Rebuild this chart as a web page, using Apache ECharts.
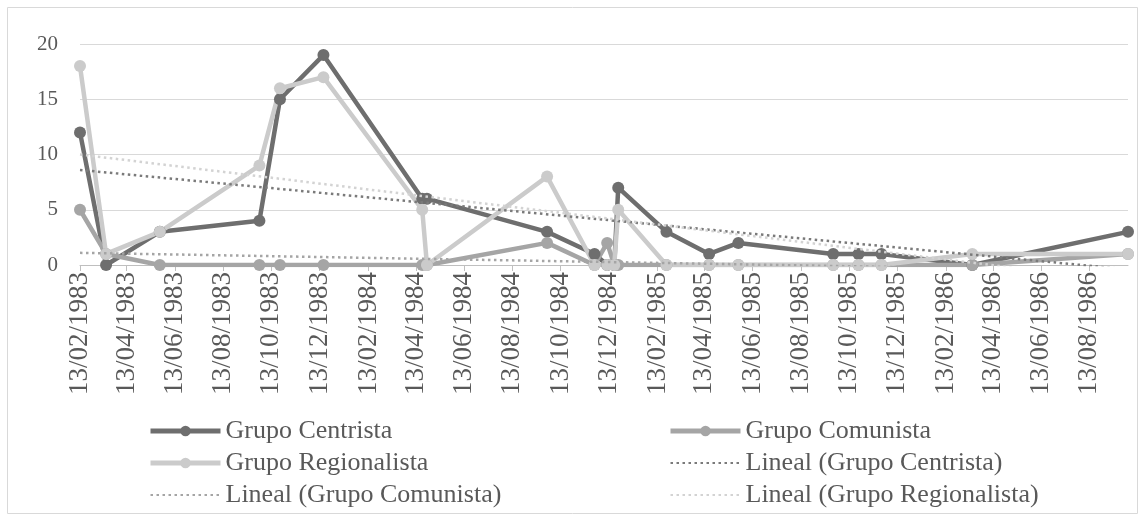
<!DOCTYPE html>
<html>
<head>
<meta charset="utf-8">
<script src="https://cdn.jsdelivr.net/npm/echarts@6/dist/echarts.min.js"></script>
<style>
html,body{margin:0;padding:0;background:#fff;}
#chart{width:1144px;height:520px;}
</style>
</head>
<body>
<div id="chart"></div>
<script>
// ---- data ----
const dates = ['1983-02-13','1983-03-18','1983-05-25','1983-09-28','1983-10-24','1983-12-18',
  '1984-04-21','1984-04-27','1984-09-26','1984-11-25','1984-12-11','1984-12-20','1984-12-25',
  '1985-02-24','1985-04-19','1985-05-26','1985-09-23','1985-10-25','1985-11-23','1986-03-18','1986-10-01'];
const centrista    = [12,0,3,4,15,19,6,6,3,1,0,0,7,3,1,2,1,1,1,0,3];
const comunista    = [5,1,0,0,0,0,0,0,2,0,2,0,0,0,0,0,0,0,0,0,1];
const regionalista = [18,1,3,9,16,17,5,0,8,0,0,0,5,0,0,0,0,0,0,1,1];
// linear trend lines: value at first and last date
const trendDates = ['1983-02-13','1986-10-01'];
const trendCentrista    = [8.6, -0.4];
const trendComunista    = [1.1, -0.55];
const trendRegionalista = [10.0, -1.5];
const tickDates = ['1983-02-13','1983-04-13','1983-06-13','1983-08-13','1983-10-13','1983-12-13',
  '1984-02-13','1984-04-13','1984-06-13','1984-08-13','1984-10-13','1984-12-13',
  '1985-02-13','1985-04-13','1985-06-13','1985-08-13','1985-10-13','1985-12-13',
  '1986-02-13','1986-04-13','1986-06-13','1986-08-13'];
const yTicks = [0,5,10,15,20];
const names = ['Grupo Centrista','Grupo Comunista','Grupo Regionalista',
  'Lineal (Grupo Centrista)','Lineal (Grupo Comunista)','Lineal (Grupo Regionalista)'];

function ts(s){const p=s.split('-').map(Number);return Date.UTC(p[0],p[1]-1,p[2]);}
function pad(n){return (n<10?'0':'')+n;}
function pairs(ds, vs){return ds.map((d,i)=>[ts(d),vs[i]]);}

const FONT = '"Liberation Serif", "Times New Roman", serif';
const C1='#6e6e6e', C2='#a5a5a5', C3='#cbcbcb';

const chart = echarts.init(document.getElementById('chart'), null, {renderer:'canvas'});
function dataSeries(name, vals, color){
  return {name, type:'line', data:pairs(dates, vals), symbol:'circle', symbolSize:12,
    showSymbol:true, lineStyle:{color, width:4.5}, itemStyle:{color},
    emphasis:{disabled:true}, animation:false, clip:true, z:2};
}
function trendSeries(name, vals, color){
  return {name, type:'line', data:pairs(trendDates, vals), symbol:'none', showSymbol:false,
    lineStyle:{color, width:2.5, type:[2.5,3.5]}, itemStyle:{color},
    emphasis:{disabled:true}, animation:false, clip:true, z:3};
}
const legendCommon = {orient:'vertical', itemWidth:70, itemHeight:13, itemGap:6,
  textStyle:{fontFamily:FONT, fontSize:26, color:'#595959', lineHeight:25}, selectedMode:false};
const tickVals = tickDates.map(ts);
function dataItem(n){return {name:n, lineStyle:{width:5}};}
function trendItem(n){return {name:n, lineStyle:{width:2}, itemStyle:{opacity:0}};}

chart.setOption({
  animation:false,
  graphic:[{type:'rect', shape:{x:7.5,y:7.5,width:1130,height:506},
    style:{fill:'none', stroke:'#d9d9d9', lineWidth:1}, silent:true}],
  grid:{left:80, right:16, top:44, bottom:255, containLabel:false},
  xAxis:{type:'value', min:ts(dates[0]), max:ts(dates[dates.length-1]), scale:true,
    axisLine:{show:true, onZero:false, lineStyle:{color:'#bfbfbf', width:1}},
    axisTick:{show:true, length:6, lineStyle:{color:'#bfbfbf'}, customValues:tickVals},
    splitLine:{show:false},
    axisLabel:{rotate:90, margin:7, fontFamily:FONT, fontSize:27, color:'#595959',
      customValues:tickVals, hideOverlap:false, showMinLabel:true, showMaxLabel:true,
      formatter:function(v){const d=new Date(v);return pad(d.getUTCDate())+'/'+pad(d.getUTCMonth()+1)+'/'+d.getUTCFullYear();}}},
  yAxis:{type:'value', min:yTicks[0], max:yTicks[yTicks.length-1], interval:5,
    axisLine:{show:false}, axisTick:{show:false},
    splitLine:{lineStyle:{color:'#d9d9d9', width:1}},
    axisLabel:{fontFamily:FONT, fontSize:21, color:'#595959', margin:22}},
  legend:[
    Object.assign({left:143, top:413, data:[dataItem(names[0]),dataItem(names[2]),trendItem(names[4])]}, legendCommon),
    Object.assign({left:663, top:413, data:[dataItem(names[1]),trendItem(names[3]),trendItem(names[5])]}, legendCommon)
  ],
  series:[
    dataSeries(names[0], centrista, C1),
    dataSeries(names[1], comunista, C2),
    dataSeries(names[2], regionalista, C3),
    trendSeries(names[3], trendCentrista, '#7a7a7a'),
    trendSeries(names[4], trendComunista, '#a5a5a5'),
    trendSeries(names[5], trendRegionalista, '#d3d3d3')
  ]
});
</script>
</body>
</html>
